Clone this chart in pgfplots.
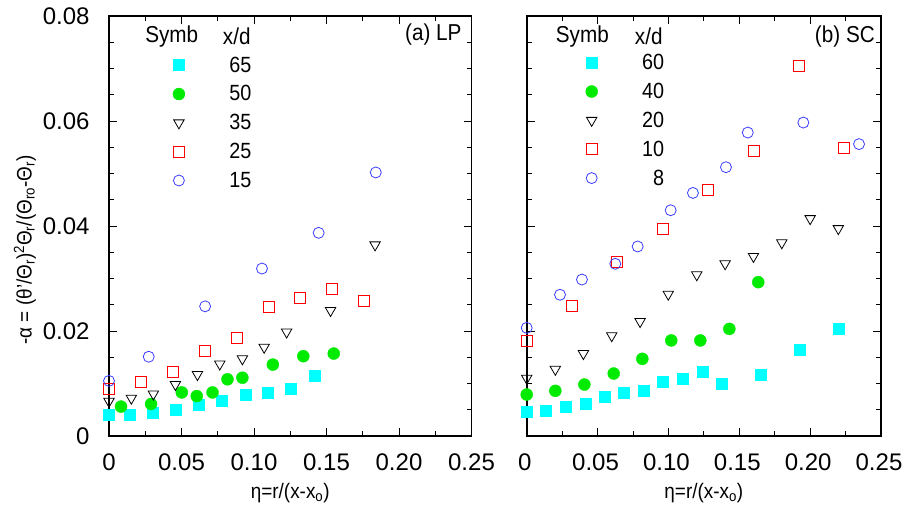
\documentclass[border=0pt]{standalone}
\usepackage{fontspec}
\setmainfont{Liberation Sans}[FakeStretch=0.9]
\newfontfamily\tickfam{Liberation Sans}
\usepackage{pgfplots}
\pgfplotsset{compat=1.18}
\definecolor{mcyan}{RGB}{0,255,255}
\definecolor{mgreen}{RGB}{0,235,0}
\definecolor{mred}{RGB}{255,0,0}
\definecolor{mblue}{RGB}{60,60,255}
\newcommand{\ff}{\fontsize{21}{25}\selectfont}
\newcommand{\ft}{\tickfam\fontsize{24}{29}\selectfont}
\newcommand{\fl}{\fontsize{22}{26}\selectfont}
\newcommand{\fh}{\fontsize{23}{27}\selectfont}
\pgfplotsset{
  panel/.style={
    scale only axis, height=420pt,
    xmin=0, xmax=0.25, ymin=0, ymax=0.08,
    xtick={0,0.05,0.1,0.15,0.2,0.25},
    xticklabels={0,0.05,0.10,0.15,0.20,0.25},
    minor xtick={0.025,0.075,0.125,0.175,0.225},
    ytick={0,0.02,0.04,0.06,0.08},
    minor ytick={0.005,0.01,0.015,0.025,0.03,0.035,0.045,0.05,0.055,0.065,0.07,0.075},
    scaled ticks=false,
    tick align=inside, major tick length=8pt, minor tick length=5pt,
    every tick/.style={black, line width=0.8pt},
    separate axis lines,
    axis line style={line width=1.6pt, line cap=rect},
    tick label style={font=\ft},
    xticklabel style={yshift=-14pt},
    yticklabel style={xshift=-16pt},
    label style={font=\ff},
    xlabel={η=r/(x-x\textsubscript{o})},
    xlabel style={at={(axis description cs:0.5,-0.136)}, anchor=center},
    clip=true,
    legend cell align=right,
    legend image code/.code={\path[draw=none,fill=none] (4.5pt,0pt) -- (58.5pt,0pt); \draw[mark repeat=2,mark phase=2] plot coordinates {(0pt,0pt)(10pt,0pt)(20pt,0pt)};},
    legend style={draw=none, fill=none, font=\fl, row sep=8pt, anchor=north west},
  },
  scy/.style={only marks, mark=square*, mark size=5.5pt, mark options={draw=mcyan, fill=mcyan}},
  sgr/.style={only marks, mark=*, mark size=6pt, mark options={draw=mgreen, fill=mgreen}},
  str/.style={only marks, mark=triangle, mark size=6pt, mark options={draw=black, rotate=180, line width=0.8pt}},
  srd/.style={only marks, mark=square, mark size=5.5pt, mark options={draw=mred, line width=0.9pt}},
  sbl/.style={only marks, mark=o, mark size=5.5pt, mark options={draw=mblue, line width=0.8pt}},
}
\begin{document}
\begin{tikzpicture}
\path[use as bounding box] (0,0) rectangle (903pt,511pt);
\begin{axis}[panel, at={(109pt,75pt)}, anchor=south west, width=362.5pt,
  yticklabels={0,0.02,0.04,0.06,0.08},
  ylabel={-α = (θ'/Θ\textsubscript{r})\textsuperscript{2}Θ\textsubscript{r}/(Θ\textsubscript{ro}-Θ\textsubscript{r})},
  ylabel style={at={(axis description cs:-0.232,0.443)}, anchor=center},
  legend style={at={(axis description cs:0.1675,0.913)}}]
\addplot[scy] coordinates {(0,0.0041) (0.014,0.0040) (0.030,0.0045) (0.0458,0.0050) (0.062,0.0059) (0.0776,0.0067) (0.094,0.0079) (0.1096,0.0082) (0.1255,0.0091) (0.1416,0.0114)};
\addlegendentry{65}
\addplot[sgr] coordinates {(0.0083,0.0056) (0.029,0.0061) (0.0502,0.0083) (0.0605,0.0076) (0.0714,0.0083) (0.0817,0.0108) (0.092,0.0111) (0.113,0.0136) (0.134,0.0152) (0.155,0.0157)};
\addlegendentry{50}
\addplot[str] coordinates {(0,0.0066) (0.0154,0.0072) (0.0306,0.0080) (0.0458,0.0098) (0.061,0.0117) (0.0764,0.0137) (0.092,0.0147) (0.107,0.0169) (0.1225,0.0198) (0.1528,0.0239) (0.1835,0.0364)};
\addlegendentry{35}
\addplot[srd] coordinates {(0,0.0090) (0.0219,0.0102) (0.044,0.0122) (0.066,0.0162) (0.0882,0.0186) (0.110,0.0246) (0.1317,0.0263) (0.1538,0.0281) (0.1759,0.0258)};
\addlegendentry{25}
\addplot[sbl] coordinates {(0,0.0105) (0.0274,0.0151) (0.0663,0.0247) (0.1055,0.0319) (0.1446,0.0387) (0.184,0.0502)};
\addlegendentry{15}
\node[font=\fh, anchor=center] at (axis description cs:0.173,0.951) {Symb};
\node[font=\fh, anchor=east, inner sep=0pt] at (axis description cs:0.391,0.951) {x/d};
\node[font=\fh, anchor=east, inner sep=0pt] at (axis description cs:0.973,0.955) {(a) LP};
\end{axis}
\begin{axis}[panel, at={(526.7pt,75pt)}, anchor=south west, width=354.3pt,
  yticklabels={,,,,},
  xticklabel style={xshift=-2pt},
  legend style={at={(axis description cs:0.1575,0.919)}}]
\addplot[scy] coordinates {(0,0.0046) (0.0136,0.0048) (0.0275,0.0055) (0.0414,0.0061) (0.055,0.0074) (0.0687,0.0083) (0.0823,0.0086) (0.0962,0.0103) (0.1098,0.0109) (0.1239,0.0122) (0.1373,0.0099) (0.1648,0.0117) (0.1924,0.0164) (0.2199,0.0204)};
\addlegendentry{60}
\addplot[sgr] coordinates {(0,0.0079) (0.0202,0.0086) (0.0407,0.0098) (0.0614,0.0119) (0.0816,0.0147) (0.102,0.0182) (0.1225,0.0182) (0.143,0.0204) (0.1634,0.0293)};
\addlegendentry{40}
\addplot[str] coordinates {(0,0.0110) (0.0202,0.0127) (0.040,0.0157) (0.060,0.0191) (0.080,0.0218) (0.0999,0.0270) (0.120,0.0307) (0.140,0.0328) (0.160,0.0342) (0.180,0.0368) (0.200,0.0414) (0.2199,0.0395)};
\addlegendentry{20}
\addplot[srd] coordinates {(0,0.0181) (0.0322,0.0248) (0.064,0.0331) (0.096,0.0395) (0.1282,0.0469) (0.160,0.0542) (0.192,0.0704) (0.2241,0.0549)};
\addlegendentry{10}
\addplot[sbl] coordinates {(0,0.0206) (0.0235,0.0269) (0.039,0.0298) (0.0625,0.0328) (0.0783,0.0361) (0.1016,0.0430) (0.1173,0.0463) (0.1406,0.0512) (0.156,0.0578) (0.1952,0.0597) (0.2345,0.0556)};
\addlegendentry{8}
\node[font=\fh, anchor=center] at (axis description cs:0.157,0.951) {Symb};
\node[font=\fh, anchor=east, inner sep=0pt] at (axis description cs:0.384,0.951) {x/d};
\node[font=\fh, anchor=east, inner sep=0pt] at (axis description cs:0.983,0.952) {(b) SC};
\end{axis}
\end{tikzpicture}
\end{document}
